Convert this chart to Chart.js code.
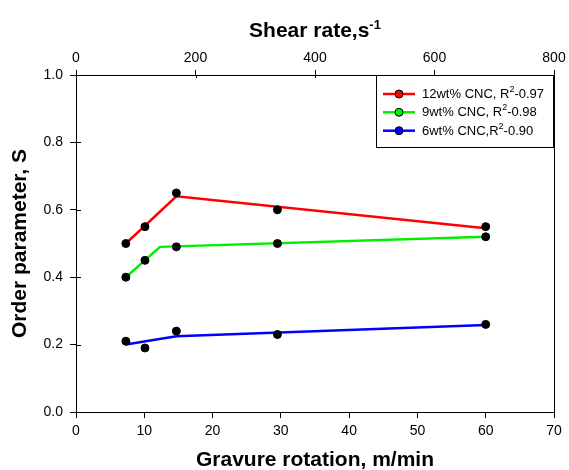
<!DOCTYPE html>
<html>
<head>
<meta charset="utf-8">
<script src="https://cdn.jsdelivr.net/npm/chart.js@4"></script>
<style>
html,body{margin:0;padding:0;background:#fff;}
#wrap{width:569px;height:470px;position:relative;}
</style>
</head>
<body>
<div id="wrap"><canvas id="c" width="569" height="470"></canvas></div>
<script>
// ---- data ----
const gravure = [7.3, 10.1, 14.7, 29.5, 60];
const s12 = [0.50, 0.55, 0.65, 0.60, 0.55];
const s9  = [0.40, 0.45, 0.49, 0.50, 0.52];
const s6  = [0.21, 0.19, 0.24, 0.23, 0.26];

const fitX12 = [7.3, 14.7, 60];
const fit12  = [0.50, 0.64, 0.545];
const fitX9  = [7.3, 12.3, 60];
const fit9   = [0.40, 0.49, 0.52];
const fitX6  = [7.3, 14.7, 60];
const fit6   = [0.20, 0.225, 0.258];

// legend text: [before superscript, superscript, after]
const legendParts = [
  ['12wt% CNC, R', '2', '-0.97'],
  ['9wt% CNC, R', '2', '-0.98'],
  ['6wt% CNC,R', '2', '-0.90']
];
const legendLabels = legendParts.map(p => p[0] + '²' + p[2]);
const fitColors = ['#ff0000', '#00ee00', '#0000ff'];

const xTicksBottom = [0, 10, 20, 30, 40, 50, 60, 70];
const xTicksTop = [0, 200, 400, 600, 800];
const yTicks = [0, 0.2, 0.4, 0.6, 0.8, 1.0];
const topTitle = ['Shear rate,s', '-1'];

const FONT = '"Liberation Sans", Arial, sans-serif';

function pts(xs, ys) { return xs.map((x, i) => ({x: x, y: ys[i]})); }

const fitSets = [[fitX12, fit12], [fitX9, fit9], [fitX6, fit6]].map((p, i) => ({
  type: 'line', label: legendLabels[i], data: pts(p[0], p[1]),
  borderColor: fitColors[i], borderWidth: 2.5, pointRadius: 0, fill: false, tension: 0,
  xAxisID: 'x', yAxisID: 'y', order: 2
}));
const scatSets = [s12, s9, s6].map((s, i) => ({
  type: 'scatter', label: 'data' + i, data: pts(gravure, s),
  backgroundColor: '#000', borderColor: '#000', pointRadius: 4, showLine: false,
  xAxisID: 'x', yAxisID: 'y', order: 1
}));

function drawSup(ctx, parts, x, y, size, supSize, rise, bold) {
  const w = bold ? 'bold ' : '';
  ctx.font = w + size + 'px ' + FONT;
  ctx.fillText(parts[0], x, y);
  x += ctx.measureText(parts[0]).width;
  ctx.font = w + supSize + 'px ' + FONT;
  ctx.fillText(parts[1], x, y - rise);
  x += ctx.measureText(parts[1]).width;
  if (parts[2]) {
    ctx.font = w + size + 'px ' + FONT;
    ctx.fillText(parts[2], x, y);
  }
}

const decorPlugin = {
  id: 'decor',
  afterDraw(chart) {
    const ctx = chart.ctx, ca = chart.chartArea;
    ctx.save();
    // inner halves of the crossing ticks (left and top axes)
    ctx.strokeStyle = '#000'; ctx.lineWidth = 1;
    const ys = chart.scales.y;
    ys.ticks.forEach(t => {
      const py = Math.round(ys.getPixelForValue(t.value)) + 0.5;
      ctx.beginPath(); ctx.moveTo(ca.left, py); ctx.lineTo(ca.left + 5, py); ctx.stroke();
    });
    const xt = chart.scales.x2;
    xt.ticks.forEach(t => {
      const px = Math.round(xt.getPixelForValue(t.value)) + 0.5;
      ctx.beginPath(); ctx.moveTo(px, ca.top); ctx.lineTo(px, ca.top + 3); ctx.stroke();
    });

    // top title with superscript
    ctx.fillStyle = '#000';
    ctx.textBaseline = 'alphabetic';
    ctx.font = 'bold 21px ' + FONT;
    const w1 = ctx.measureText(topTitle[0]).width;
    ctx.font = 'bold 13px ' + FONT;
    const w2 = ctx.measureText(topTitle[1]).width;
    const tx = (ca.left + ca.right) / 2 - (w1 + w2) / 2;
    drawSup(ctx, [topTitle[0], topTitle[1]], tx, 37, 21, 13, 8, true);

    // legend box
    const x0 = 376, y0 = ca.top, w = ca.right - x0, h = 73;
    ctx.fillStyle = '#fff';
    ctx.fillRect(x0, y0, w, h);
    ctx.strokeStyle = '#000'; ctx.lineWidth = 1;
    ctx.strokeRect(x0 + 0.5, y0 + 0.5, w - 1, h - 1);
    ctx.textBaseline = 'middle';
    const rows = [94, 112.3, 130.7];
    legendParts.forEach((p, i) => {
      const y = rows[i];
      ctx.strokeStyle = fitColors[i]; ctx.lineWidth = 2.5;
      ctx.beginPath(); ctx.moveTo(383, y); ctx.lineTo(415, y); ctx.stroke();
      ctx.beginPath(); ctx.arc(399, y, 4, 0, Math.PI * 2);
      ctx.fillStyle = fitColors[i]; ctx.fill();
      ctx.strokeStyle = '#000'; ctx.lineWidth = 1; ctx.stroke();
      ctx.fillStyle = '#000';
      drawSup(ctx, p, 422, y + 0.5, 13, 9, 5, false);
    });
    ctx.restore();
  }
};

const tickFont = {family: FONT, size: 14};
const titleFont = {family: FONT, size: 21, weight: 'bold', lineHeight: 1};

new Chart(document.getElementById('c'), {
  data: {datasets: [...fitSets, ...scatSets]},
  options: {
    responsive: false, animation: false,
    layout: {padding: 0},
    plugins: {legend: {display: false}, tooltip: {enabled: false}},
    scales: {
      x: {
        type: 'linear', position: 'bottom', min: 0, max: 70,
        afterBuildTicks: s => { s.ticks = xTicksBottom.map(v => ({value: v})); },
        ticks: {color: '#000', font: tickFont, padding: 5, maxRotation: 0},
        grid: {display: true, drawOnChartArea: false, drawTicks: true, tickLength: 6, color: '#000'},
        border: {display: true, color: '#000', width: 1},
        title: {display: true, text: 'Gravure rotation, m/min', color: '#000',
                font: titleFont, padding: {top: 0, bottom: -1}},
        afterFit: s => { s.height = 58; }
      },
      x2: {
        type: 'linear', position: 'top', min: 0, max: 800,
        afterBuildTicks: s => { s.ticks = xTicksTop.map(v => ({value: v})); },
        ticks: {color: '#000', font: tickFont, padding: 3, maxRotation: 0},
        grid: {display: true, drawOnChartArea: false, drawTicks: true, tickLength: 5, color: '#000'},
        border: {display: true, color: '#000', width: 1},
        title: {display: false},
        afterFit: s => { s.height = 75; }
      },
      y: {
        type: 'linear', position: 'left', min: 0, max: 1,
        afterBuildTicks: s => { s.ticks = yTicks.map(v => ({value: v})); },
        ticks: {color: '#000', font: tickFont, padding: 7,
                callback: v => v.toFixed(1)},
        grid: {display: true, drawOnChartArea: false, drawTicks: true, tickLength: 6, color: '#000'},
        border: {display: true, color: '#000', width: 1},
        title: {display: true, text: 'Order parameter, S', color: '#000',
                font: titleFont, padding: {top: 10, bottom: 0}},
        afterFit: s => { s.width = 76; }
      },
      y2: {
        type: 'linear', position: 'right', min: 0, max: 1,
        ticks: {display: false},
        grid: {display: true, drawOnChartArea: false, drawTicks: false, color: '#000'},
        border: {display: true, color: '#000', width: 1},
        afterFit: s => { s.width = 15; }
      }
    }
  },
  plugins: [decorPlugin]
});
</script>
</body>
</html>
